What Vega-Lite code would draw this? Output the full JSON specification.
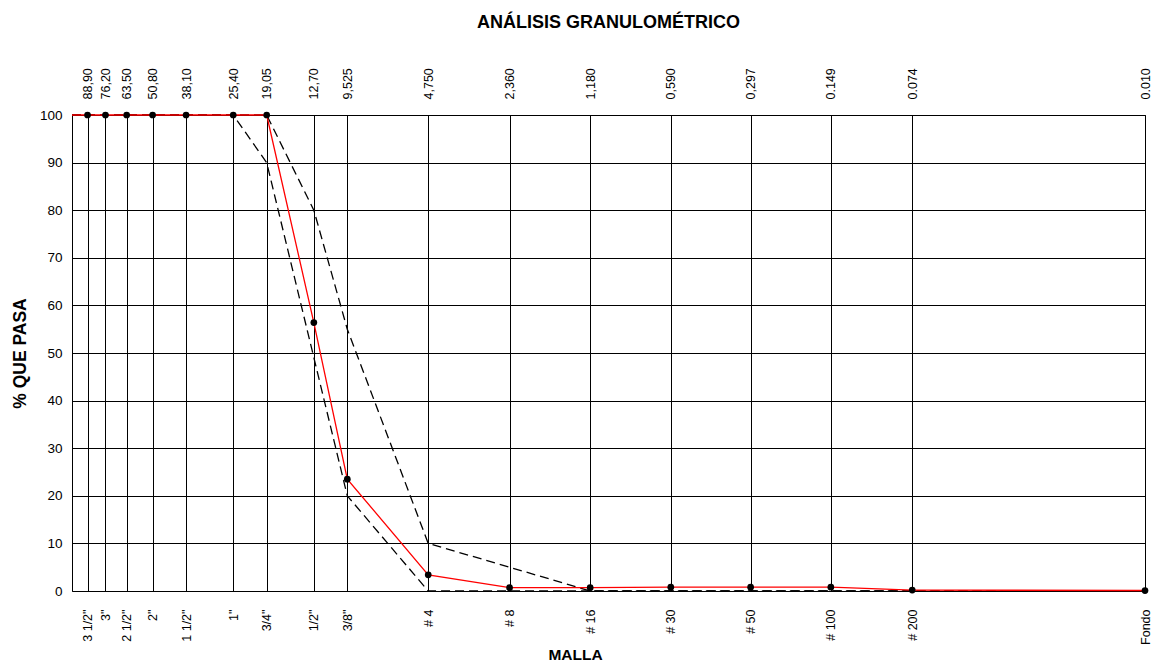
{
  "$schema": "https://vega.github.io/schema/vega-lite/v6.json",
  "width": 1073,
  "height": 476,
  "autosize": "none",
  "padding": {"left": 72, "top": 115, "right": 11, "bottom": 73},
  "background": "white",
  "title": {
    "text": "ANÁLISIS GRANULOMÉTRICO",
    "font": "Liberation Sans",
    "fontSize": 18,
    "fontWeight": "bold",
    "color": "black",
    "anchor": "middle",
    "offset": 36
  },
  "config": {
    "view": {"stroke": "black", "strokeWidth": 1},
    "axis": {
      "labelFont": "Liberation Sans",
      "titleFont": "Liberation Sans",
      "labelColor": "black",
      "titleColor": "black",
      "gridColor": "black",
      "gridOpacity": 1,
      "gridWidth": 1,
      "domain": false,
      "ticks": false
    }
  },
  "datasets": {
    "muestra": [
      {"abertura": 101.6, "pasa": 100},
      {"abertura": 88.9, "pasa": 100},
      {"abertura": 76.2, "pasa": 100},
      {"abertura": 63.5, "pasa": 100},
      {"abertura": 50.8, "pasa": 100},
      {"abertura": 38.1, "pasa": 100},
      {"abertura": 25.4, "pasa": 100},
      {"abertura": 19.05, "pasa": 100},
      {"abertura": 12.7, "pasa": 56.4},
      {"abertura": 9.525, "pasa": 23.5},
      {"abertura": 4.75, "pasa": 3.4},
      {"abertura": 2.36, "pasa": 0.7},
      {"abertura": 1.18, "pasa": 0.7},
      {"abertura": 0.59, "pasa": 0.8},
      {"abertura": 0.297, "pasa": 0.8},
      {"abertura": 0.149, "pasa": 0.8},
      {"abertura": 0.074, "pasa": 0.2},
      {"abertura": 0.01, "pasa": 0.1}
    ],
    "limites": [
      {"serie": "superior", "abertura": 101.6, "pasa": 100},
      {"serie": "superior", "abertura": 25.4, "pasa": 100},
      {"serie": "superior", "abertura": 19.05, "pasa": 100},
      {"serie": "superior", "abertura": 12.7, "pasa": 80},
      {"serie": "superior", "abertura": 9.525, "pasa": 55},
      {"serie": "superior", "abertura": 4.75, "pasa": 10},
      {"serie": "superior", "abertura": 2.36, "pasa": 5},
      {"serie": "superior", "abertura": 1.18, "pasa": 0},
      {"serie": "superior", "abertura": 0.01, "pasa": 0},
      {"serie": "inferior", "abertura": 101.6, "pasa": 100},
      {"serie": "inferior", "abertura": 25.4, "pasa": 100},
      {"serie": "inferior", "abertura": 19.05, "pasa": 90},
      {"serie": "inferior", "abertura": 9.525, "pasa": 20},
      {"serie": "inferior", "abertura": 4.75, "pasa": 0},
      {"serie": "inferior", "abertura": 0.01, "pasa": 0}
    ]
  },
  "layer": [
    {
      "data": {"name": "limites"},
      "mark": {"type": "line", "color": "black", "strokeWidth": 1.3, "strokeDash": [9, 5]},
      "encoding": {
        "x": {
          "field": "abertura",
          "type": "quantitative",
          "scale": {"type": "log", "domain": [0.01, 101.6], "reverse": true, "nice": false},
          "axis": {
            "orient": "top",
            "title": null,
            "grid": true,
            "values": [88.9, 76.2, 63.5, 50.8, 38.1, 25.4, 19.05, 12.7, 9.525, 4.75, 2.36, 1.18, 0.59, 0.297, 0.149, 0.074, 0.01],
            "labelExpr": "['88,90','76,20','63,50','50,80','38,10','25,40','19,05','12,70','9,525','4,750','2,360','1,180','0,590','0,297','0.149','0.074','0.010'][indexof([88.9,76.2,63.5,50.8,38.1,25.4,19.05,12.7,9.525,4.75,2.36,1.18,0.59,0.297,0.149,0.074,0.01], datum.value)]",
            "labelAngle": -90,
            "labelAlign": "left",
            "labelBaseline": "middle",
            "labelPadding": 16,
            "labelFontSize": 12.5,
            "labelOverlap": false,
            "labelBound": false,
            "labelFlush": false
          }
        },
        "y": {
          "field": "pasa",
          "type": "quantitative",
          "scale": {"domain": [0, 100], "nice": false},
          "axis": {
            "values": [0, 10, 20, 30, 40, 50, 60, 70, 80, 90, 100],
            "grid": true,
            "title": "% QUE PASA",
            "titleFontSize": 17.5,
            "titleFontWeight": "bold",
            "titlePadding": 10,
            "labelFontSize": 13.5,
            "labelPadding": 10
          }
        },
        "detail": {"field": "serie"}
      }
    },
    {
      "data": {"name": "muestra"},
      "mark": {"type": "line", "color": "#ff0000", "strokeWidth": 1.3},
      "encoding": {
        "x": {
          "field": "abertura",
          "type": "quantitative",
          "scale": {"type": "log", "domain": [0.01, 101.6], "reverse": true, "nice": false},
          "axis": {
            "orient": "bottom",
            "grid": false,
            "title": "MALLA",
            "titleFontSize": 15.5,
            "titleFontWeight": "bold",
            "titleX": 503,
            "titleY": 68,
            "titleAlign": "center",
            "titleBaseline": "alphabetic",
            "values": [88.9, 76.2, 63.5, 50.8, 38.1, 25.4, 19.05, 12.7, 9.525, 4.75, 2.36, 1.18, 0.59, 0.297, 0.149, 0.074, 0.01],
            "labelExpr": "['3 1/2\"','3\"','2 1/2\"','2\"','1 1/2\"','1\"','3/4\"','1/2\"','3/8\"','# 4','# 8','# 16','# 30','# 50','# 100','# 200','Fondo'][indexof([88.9,76.2,63.5,50.8,38.1,25.4,19.05,12.7,9.525,4.75,2.36,1.18,0.59,0.297,0.149,0.074,0.01], datum.value)]",
            "labelAngle": -90,
            "labelAlign": "right",
            "labelBaseline": "middle",
            "labelPadding": 18,
            "labelFontSize": 12.5,
            "labelOverlap": false,
            "labelBound": false,
            "labelFlush": false
          }
        },
        "y": {"field": "pasa", "type": "quantitative", "axis": null}
      }
    },
    {
      "data": {"name": "muestra"},
      "transform": [{"filter": "datum.abertura < 100"}],
      "mark": {"type": "circle", "color": "black", "opacity": 1, "size": 45},
      "encoding": {
        "x": {"field": "abertura", "type": "quantitative", "axis": null},
        "y": {"field": "pasa", "type": "quantitative", "axis": null}
      }
    }
  ],
  "resolve": {"axis": {"x": "independent", "y": "independent"}}
}
